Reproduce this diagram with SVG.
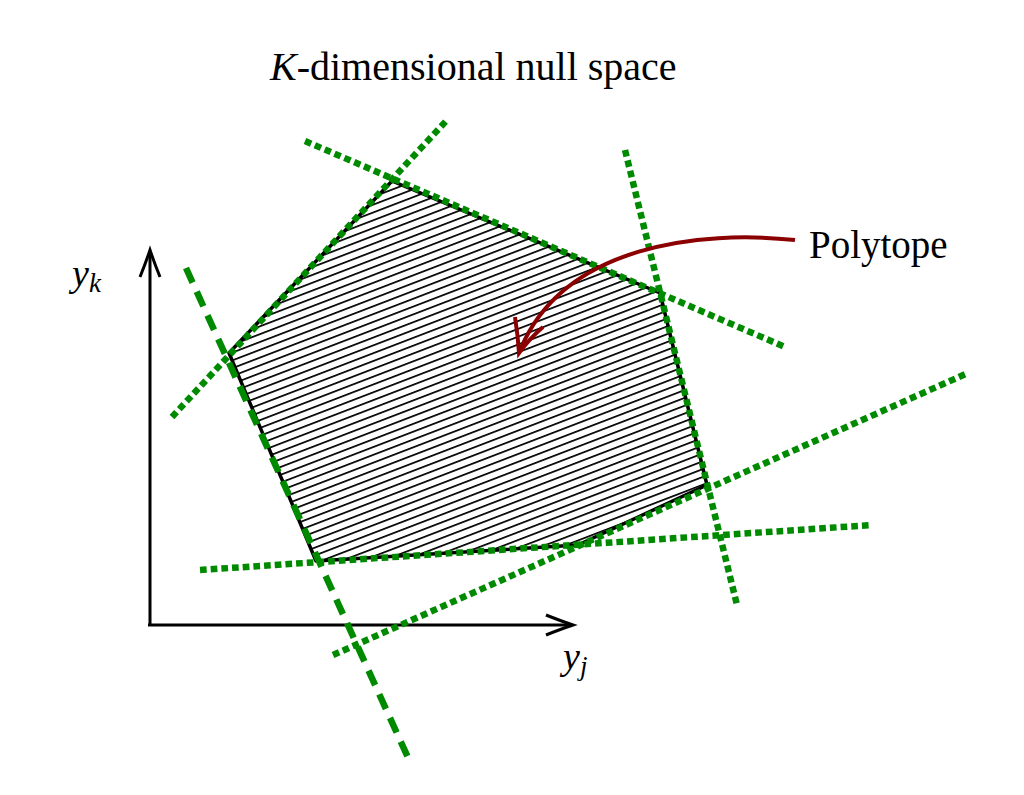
<svg xmlns="http://www.w3.org/2000/svg" width="1024" height="795" viewBox="0 0 1024 795">
<style>
.dot{stroke:#008a00;stroke-width:6.5;stroke-dasharray:6.7 4;fill:none}
.dash{stroke:#008a00;stroke-width:6.5;stroke-dasharray:16 10;fill:none}
.axis{stroke:#000;stroke-width:3;fill:none}
.t{font-family:"Liberation Serif","Times New Roman",serif;fill:#000}
.m{font-family:"Liberation Serif","Times New Roman",serif;font-style:italic;fill:#000}
</style>
<defs>
<pattern id="hatch" patternUnits="userSpaceOnUse" width="20" height="7.3" patternTransform="rotate(-21)">
<line x1="0" y1="3.6" x2="20" y2="3.6" stroke="#000" stroke-width="1.7"/>
</pattern>
</defs>
<rect width="1024" height="795" fill="#fff"/>
<g id="polytope">
<polygon points="392,181 660,293 707,485 578,545 316,561 229,353" fill="url(#hatch)" stroke="#000" stroke-width="3.5" stroke-linejoin="round"/>
</g>
<g id="axes">
<line class="axis" x1="150" y1="625" x2="150" y2="252"/>
<path class="axis" d="M140,277 Q146,262 150,250 Q154,262 160,277"/>
<line class="axis" x1="148" y1="625" x2="571" y2="625"/>
<path class="axis" d="M546,615 Q561,621 573,625 Q561,629 546,635"/>
</g>
<g id="connectors">
<line class="dot" x1="172" y1="417" x2="447" y2="120"/>
<line class="dot" x1="305" y1="141" x2="785" y2="347"/>
<line class="dot" x1="625" y1="150" x2="737" y2="605"/>
<line class="dot" x1="333" y1="655" x2="968" y2="373"/>
<line class="dot" x1="200" y1="570" x2="872" y2="525"/>
<line class="dash" x1="186" y1="268" x2="410" y2="762"/>
</g>
<g id="pointer">
<path d="M795,240 C700,230 565,245 521,348" fill="none" stroke="#8b0000" stroke-width="4"/>
<path d="M515,317 Q518,336 519,353 Q530,338 543,327" fill="none" stroke="#8b0000" stroke-width="4"/>
</g>
<g id="labels">
<text class="t" x="270" y="80" font-size="40"><tspan class="m">K</tspan>-dimensional null space</text>
<text class="t" x="809" y="258" font-size="39">Polytope</text>
<text class="m" x="72" y="286" font-size="38">y<tspan font-size="27" dy="6">k</tspan></text>
<text class="m" x="563" y="669" font-size="38">y<tspan font-size="27" dy="6">j</tspan></text>
</g>
</svg>
